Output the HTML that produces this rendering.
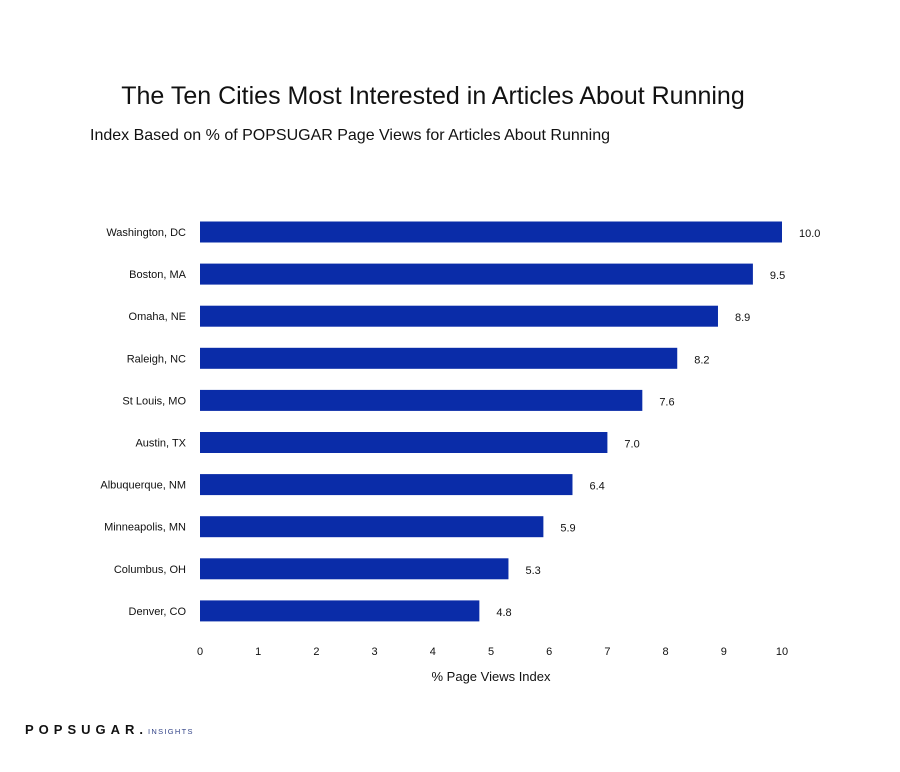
<!DOCTYPE html>
<html><head><meta charset="utf-8"><style>
body{margin:0;background:#fff;font-family:"Liberation Sans",sans-serif;}
svg text{font-family:"Liberation Sans",sans-serif;fill:#111;}
</style></head><body>
<svg width="900" height="767">
<text x="433" y="104" text-anchor="middle" font-size="25">The Ten Cities Most Interested in Articles About Running</text>
<text x="90" y="140" font-size="16">Index Based on % of POPSUGAR Page Views for Articles About Running</text>
<g id="bars"></g>
<g id="xticks"></g>
<text x="491" y="681" text-anchor="middle" font-size="13">% Page Views Index</text>
<text x="25" y="734" font-size="13" font-weight="bold" letter-spacing="5" fill="#1a1f2e">POPSUGAR.<tspan font-size="7.5" letter-spacing="1.3" fill="#334488" font-weight="normal">INSIGHTS</tspan></text>
</svg>
<script>
const cities=["Washington, DC","Boston, MA","Omaha, NE","Raleigh, NC","St Louis, MO","Austin, TX","Albuquerque, NM","Minneapolis, MN","Columbus, OH","Denver, CO"];
const values=[10.0,9.5,8.9,8.2,7.6,7.0,6.4,5.9,5.3,4.8];
const valueLabels=["10.0","9.5","8.9","8.2","7.6","7.0","6.4","5.9","5.3","4.8"];
const tickValues=[0,1,2,3,4,5,6,7,8,9,10];
const NS="http://www.w3.org/2000/svg";
const x=v=>200+v*58.2;
const yc=i=>232+i*42.1;
const bars=document.getElementById('bars');
cities.forEach((c,i)=>{
  const r=document.createElementNS(NS,'rect');
  r.setAttribute('x',x(0));r.setAttribute('y',yc(i)-10.5);
  r.setAttribute('width',x(values[i])-x(0));r.setAttribute('height',21);
  r.setAttribute('fill','#0a2ca8');
  
  
  bars.appendChild(r);
  const l=document.createElementNS(NS,'text');
  l.setAttribute('x',186);l.setAttribute('y',yc(i)+4);l.setAttribute('text-anchor','end');l.setAttribute('font-size','11');
  l.textContent=c;
  
  
  bars.appendChild(l);
  const v=document.createElementNS(NS,'text');
  v.setAttribute('x',x(values[i])+17);v.setAttribute('y',yc(i)+5);v.setAttribute('font-size','11');
  v.textContent=valueLabels[i];
  
  
  bars.appendChild(v);
});
const xt=document.getElementById('xticks');
tickValues.forEach(t=>{
  const e=document.createElementNS(NS,'text');
  e.setAttribute('x',x(t));e.setAttribute('y',655);e.setAttribute('text-anchor','middle');e.setAttribute('font-size','11');
  e.textContent=t;
  
  
  xt.appendChild(e);
});
</script>
</body></html>
